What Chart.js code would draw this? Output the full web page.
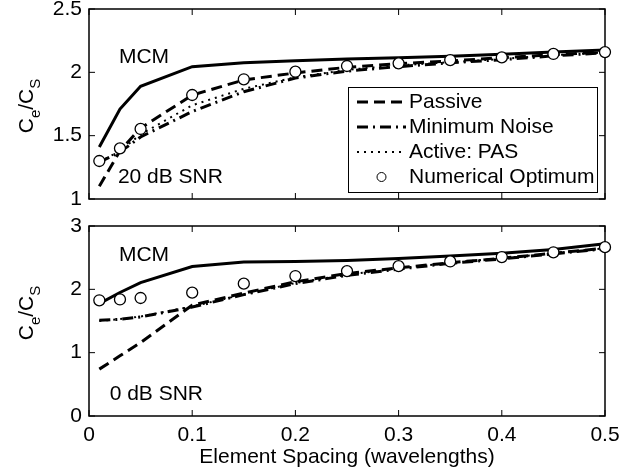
<!DOCTYPE html>
<html>
<head>
<meta charset="utf-8">
<script src="https://cdn.jsdelivr.net/npm/chart.js@4.4.1/dist/chart.umd.min.js"></script>
<style>
  html, body { margin: 0; padding: 0; background: #fff; }
  #wrap { position: relative; width: 640px; height: 474px; }
  #wrap canvas { position: absolute; left: 0; top: 0; }
</style>
</head>
<body>
<div id="wrap">
  <canvas id="hi" width="640" height="474"></canvas>
  <canvas id="lo" width="640" height="474"></canvas>
</div>
<script>
const spacing = [0.01, 0.03, 0.05, 0.1, 0.15, 0.2, 0.25, 0.3, 0.35, 0.4, 0.45, 0.5]
const xTicks = [0, 0.1, 0.2, 0.3, 0.4, 0.5]

// 20 dB SNR
const hiMcm = [1.41, 1.71, 1.89, 2.045, 2.076, 2.092, 2.105, 2.115, 2.127, 2.143, 2.16, 2.177]
const hiPassive = [1.10, 1.38, 1.56, 1.82, 1.94, 1.995, 2.04, 2.068, 2.09, 2.115, 2.14, 2.158]
const hiMinNoise = [1.29, 1.37, 1.49, 1.69, 1.847, 1.955, 2.01, 2.045, 2.075, 2.10, 2.13, 2.155]
const hiActive = [1.29, 1.38, 1.51, 1.74, 1.87, 1.96, 2.02, 2.055, 2.08, 2.105, 2.135, 2.157]
const hiOptimum = [1.30, 1.40, 1.553, 1.821, 1.945, 2.005, 2.05, 2.071, 2.097, 2.118, 2.145, 2.16]
const hiYTicks = [1, 1.5, 2, 2.5]

// 0 dB SNR
const loMcm = [1.775, 1.95, 2.105, 2.36, 2.43, 2.44, 2.455, 2.485, 2.525, 2.57, 2.63, 2.72]
const loPassive = [0.74, 0.95, 1.16, 1.75, 1.94, 2.12, 2.25, 2.34, 2.42, 2.49, 2.57, 2.65]
const loMinNoise = [1.51, 1.527, 1.565, 1.72, 1.917, 2.09, 2.22, 2.32, 2.41, 2.48, 2.56, 2.64]
const loActive = [1.50, 1.53, 1.57, 1.73, 1.92, 2.10, 2.23, 2.33, 2.42, 2.49, 2.57, 2.65]
const loOptimum = [1.827, 1.84, 1.863, 1.948, 2.09, 2.21, 2.288, 2.367, 2.44, 2.51, 2.585, 2.666]
const loYTicks = [0, 1, 2, 3]

const legendLabels = ['Passive', 'Minimum Noise', 'Active: PAS', 'Numerical Optimum']

const FONT = '"Liberation Sans", Arial, Helvetica, sans-serif'
Chart.defaults.font.family = FONT
Chart.defaults.font.size = 21
Chart.defaults.color = '#000'

const lineStyles = {
  mcm: { borderWidth: 3, borderDash: [] },
  passive: { borderWidth: 3, borderDash: [11, 6] },
  minNoise: { borderWidth: 3, borderDash: [11, 5, 2, 5] },
  active: { borderWidth: 2, borderDash: [2, 5] }
}

function series(label, ys, style) {
  return {
    label,
    data: spacing.map((x, i) => ({ x, y: ys[i] })),
    borderColor: '#000',
    backgroundColor: '#000',
    pointRadius: 0,
    tension: 0,
    clip: false,
    ...style
  }
}

function optimum(ys) {
  return {
    label: 'Numerical Optimum',
    data: spacing.map((x, i) => ({ x, y: ys[i] })),
    showLine: false,
    pointRadius: 5.5,
    pointBorderWidth: 1.3,
    pointBorderColor: '#000',
    pointBackgroundColor: '#fff',
    clip: false
  }
}

const fmt = v => String(Math.round(v * 100) / 100)

// box + inward ticks on all four sides, under the data
const framePlugin = {
  id: 'frame',
  beforeDatasetsDraw(chart) {
    const { ctx, chartArea: a, scales: { x, y } } = chart
    ctx.save()
    ctx.strokeStyle = '#000'
    ctx.lineWidth = 1.5
    ctx.strokeRect(a.left, a.top, a.right - a.left, a.bottom - a.top)
    ctx.lineWidth = 1
    ctx.beginPath()
    x.ticks.forEach(t => {
      const px = x.getPixelForValue(t.value)
      ctx.moveTo(px, a.bottom); ctx.lineTo(px, a.bottom - 6)
      ctx.moveTo(px, a.top); ctx.lineTo(px, a.top + 6)
    })
    y.ticks.forEach(t => {
      const py = y.getPixelForValue(t.value)
      ctx.moveTo(a.left, py); ctx.lineTo(a.left + 6, py)
      ctx.moveTo(a.right, py); ctx.lineTo(a.right - 6, py)
    })
    ctx.stroke()
    ctx.restore()
  }
}

// text notes placed in data coordinates, plus the C_e/C_S axis label
const notesPlugin = {
  id: 'notes',
  afterDraw(chart, args, opts) {
    const { ctx, chartArea: a, scales: { x, y } } = chart
    ctx.save()
    ctx.fillStyle = '#000'
    ctx.font = '21px ' + FONT
    ctx.textAlign = 'left'
    ctx.textBaseline = 'middle'
    ;(opts.items || []).forEach(n => {
      ctx.fillText(n.text, x.getPixelForValue(n.x), y.getPixelForValue(n.y))
    })

    // rotated y label with subscripts
    const parts = [
      { t: 'C', size: 21, shift: 0 },
      { t: 'e', size: 15, shift: 7 },
      { t: '/C', size: 21, shift: 0 },
      { t: 'S', size: 15, shift: 7 }
    ]
    let total = 0
    parts.forEach(p => { ctx.font = p.size + 'px ' + FONT; p.w = ctx.measureText(p.t).width; total += p.w })
    ctx.translate(opts.labelX, (a.top + a.bottom) / 2 + (opts.labelDy || 0))
    ctx.rotate(-Math.PI / 2)
    ctx.textBaseline = 'alphabetic'
    let cx = -total / 2
    parts.forEach(p => {
      ctx.font = p.size + 'px ' + FONT
      ctx.fillText(p.t, cx, p.shift)
      cx += p.w
    })
    ctx.restore()
  }
}

// boxed legend inside the upper axes
const legendPlugin = {
  id: 'boxLegend',
  afterDatasetsDraw(chart, args, opts) {
    if (!opts.show) return
    const { ctx } = chart
    const b = opts.box
    ctx.save()
    ctx.fillStyle = '#fff'
    ctx.fillRect(b.x, b.y, b.w, b.h)
    ctx.strokeStyle = '#000'
    ctx.lineWidth = 1
    ctx.strokeRect(b.x + 0.5, b.y + 0.5, b.w, b.h)
    legendLabels.forEach((label, i) => {
      const ds = chart.data.datasets.find(d => d.label === label)
      const cy = b.rowTop + i * b.rowGap
      if (ds.showLine === false) {
        ctx.beginPath()
        ctx.arc((b.sampleL + b.sampleR) / 2, cy, ds.pointRadius - 1, 0, Math.PI * 2)
        ctx.fillStyle = ds.pointBackgroundColor
        ctx.fill()
        ctx.lineWidth = 1
        ctx.setLineDash([])
        ctx.strokeStyle = ds.pointBorderColor
        ctx.stroke()
      } else {
        ctx.beginPath()
        ctx.setLineDash(ds.borderDash)
        ctx.lineWidth = ds.borderWidth
        ctx.strokeStyle = ds.borderColor
        ctx.moveTo(b.sampleL, cy)
        ctx.lineTo(b.sampleR, cy)
        ctx.stroke()
        ctx.setLineDash([])
      }
      ctx.fillStyle = '#000'
      ctx.font = '21px ' + FONT
      ctx.textBaseline = 'middle'
      ctx.textAlign = 'left'
      ctx.fillText(label, b.textX, cy)
    })
    ctx.restore()
  }
}

function makeChart(id, sets, yTicks, cfg) {
  return new Chart(document.getElementById(id), {
    type: 'line',
    data: {
      datasets: [
        optimum(sets.optimum),
        series('MCM', sets.mcm, lineStyles.mcm),
        series('Passive', sets.passive, lineStyles.passive),
        series('Minimum Noise', sets.minNoise, lineStyles.minNoise),
        series('Active: PAS', sets.active, lineStyles.active)
      ]
    },
    options: {
      responsive: false,
      animation: false,
      devicePixelRatio: 1,
      layout: { padding: { top: cfg.padTop, bottom: cfg.padBottom, left: 0, right: 35 } },
      scales: {
        x: {
          type: 'linear',
          min: 0,
          max: 0.5,
          afterBuildTicks: s => { s.ticks = xTicks.map(v => ({ value: v })) },
          afterFit: s => { s.height = cfg.xHeight; s.paddingLeft = 0; s.paddingRight = 0 },
          grid: { display: false, drawTicks: false },
          border: { display: false },
          ticks: { display: cfg.showX, padding: 7, maxRotation: 0, callback: fmt },
          title: {
            display: cfg.showX,
            text: 'Element Spacing (wavelengths)',
            padding: { top: 0, bottom: 4 }
          }
        },
        y: {
          type: 'linear',
          min: yTicks[0],
          max: yTicks[yTicks.length - 1],
          afterBuildTicks: s => { s.ticks = yTicks.map(v => ({ value: v })) },
          afterFit: s => { s.width = 89; s.paddingTop = 0; s.paddingBottom = 0 },
          grid: { display: false, drawTicks: false },
          border: { display: false },
          ticks: { padding: 7, callback: fmt }
        }
      },
      plugins: {
        legend: { display: false },
        tooltip: { enabled: false },
        notes: { items: cfg.notes, labelX: 33, labelDy: cfg.labelDy },
        boxLegend: {
          show: cfg.legend,
          box: { x: 348, y: 87, w: 249, h: 105, rowTop: 102, rowGap: 25, sampleL: 357, sampleR: 406, textX: 409 }
        }
      }
    },
    plugins: [framePlugin, legendPlugin, notesPlugin]
  })
}

makeChart('hi', {
  mcm: hiMcm, passive: hiPassive, minNoise: hiMinNoise, active: hiActive, optimum: hiOptimum
}, hiYTicks, {
  padTop: 9, padBottom: 275, xHeight: 0, showX: false, legend: true, labelDy: 2,
  notes: [
    { text: 'MCM', x: 0.029, y: 2.117 },
    { text: '20 dB SNR', x: 0.028, y: 1.17 }
  ]
})

makeChart('lo', {
  mcm: loMcm, passive: loPassive, minNoise: loMinNoise, active: loActive, optimum: loOptimum
}, loYTicks, {
  padTop: 226, padBottom: 0, xHeight: 58, showX: true, legend: false, labelDy: -8,
  notes: [
    { text: 'MCM', x: 0.029, y: 2.534 },
    { text: '0 dB SNR', x: 0.020, y: 0.347 }
  ]
})
</script>
</body>
</html>
